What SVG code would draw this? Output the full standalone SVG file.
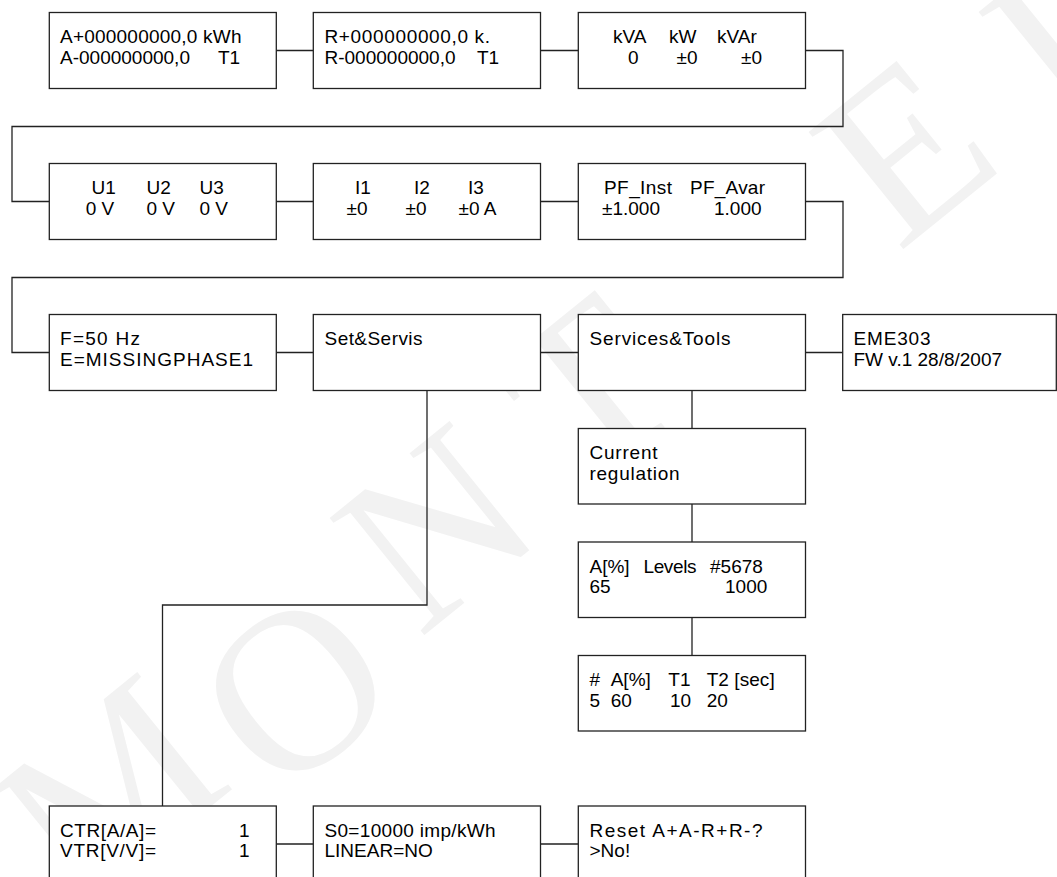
<svg xmlns="http://www.w3.org/2000/svg" width="1057" height="877" viewBox="0 0 1057 877">
<style>
.bx{fill:#fff;stroke:#222;stroke-width:1.3}
.ln{fill:none;stroke:#222;stroke-width:1.3}
.t{font-family:"Liberation Sans",Arial,sans-serif;font-size:19px;fill:#000}
.wm{font-family:"Liberation Serif","Times New Roman",serif;font-size:230px;fill:#f2f2f2;text-anchor:middle}
</style>
<rect width="1057" height="877" fill="#fff"/>
<g id="watermark">
<text class="wm" transform="translate(110,790) rotate(-39)" y="76">M</text>
<text class="wm" transform="translate(295,690) rotate(-39)" y="76">O</text>
<text class="wm" transform="translate(436,528) rotate(-39)" y="76">N</text>
<text class="wm" transform="translate(590,390) rotate(-39)" y="76">T</text>
<text class="wm" transform="translate(905,150) rotate(-39)" y="76">E</text>
<text class="wm" transform="translate(1075,30) rotate(-39)" y="76">L</text>
</g>
<g id="connectors">
<path class="ln" d="M276.3,50.5H313.3M540.5,50.5H578.3M805.5,50.5H843V126.5H12V201.5H49.3"/>
<path class="ln" d="M276.3,201.5H313.3M540.5,201.5H578.3M805.5,201.5H843V277.5H12V352.5H49.3"/>
<path class="ln" d="M276.3,352.5H313.3M540.5,352.5H578.3M805.5,352.5H842.7"/>
<path class="ln" d="M427,390.5V605H162.5V806"/>
<path class="ln" d="M692,390.5V428.5M692,504V542M692,617.5V655.5"/>
<path class="ln" d="M276.3,844H313.3M540.5,844H578.3"/>
</g>
<g id="n-energy-a">
<rect class="bx" x="49.3" y="12.5" width="227" height="76"/>
<text class="t" x="60" y="43" textLength="181.5">A+000000000,0 kWh</text>
<text class="t" x="60" y="63.5">A-000000000,0</text>
<text class="t" x="218" y="63.5">T1</text>
</g>
<g id="n-energy-r">
<rect class="bx" x="313.3" y="12.5" width="227.2" height="76"/>
<text class="t" x="324.5" y="43" textLength="165.5">R+000000000,0 k.</text>
<text class="t" x="324.5" y="63.5">R-000000000,0</text>
<text class="t" x="477" y="63.5">T1</text>
</g>
<g id="n-power">
<rect class="bx" x="578.3" y="12.5" width="227.2" height="76"/>
<text class="t" x="613" y="43">kVA</text>
<text class="t" x="669" y="43">kW</text>
<text class="t" x="717" y="43">kVAr</text>
<text class="t" x="628" y="63.5">0</text>
<text class="t" x="676.5" y="63.5">±0</text>
<text class="t" x="741" y="63.5">±0</text>
</g>
<g id="n-voltage">
<rect class="bx" x="49.3" y="163.5" width="227" height="76"/>
<text class="t" x="91.5" y="194">U1</text>
<text class="t" x="146.5" y="194">U2</text>
<text class="t" x="199.5" y="194">U3</text>
<text class="t" x="85.7" y="214.5">0 V</text>
<text class="t" x="146.5" y="214.5">0 V</text>
<text class="t" x="199.5" y="214.5">0 V</text>
</g>
<g id="n-current">
<rect class="bx" x="313.3" y="163.5" width="227.2" height="76"/>
<text class="t" x="355" y="194">I1</text>
<text class="t" x="414" y="194">I2</text>
<text class="t" x="468" y="194">I3</text>
<text class="t" x="346.5" y="214.5">±0</text>
<text class="t" x="405.5" y="214.5">±0</text>
<text class="t" x="458.5" y="214.5">±0 A</text>
</g>
<g id="n-pf">
<rect class="bx" x="578.3" y="163.5" width="227.2" height="76"/>
<text class="t" x="604" y="194" textLength="68">PF_Inst</text>
<text class="t" x="690" y="194" textLength="75">PF_Avar</text>
<text class="t" x="602" y="214.5">±1.000</text>
<text class="t" x="714" y="214.5">1.000</text>
</g>
<g id="n-freq">
<rect class="bx" x="49.3" y="314.5" width="227" height="76"/>
<text class="t" x="60" y="345" textLength="80">F=50 Hz</text>
<text class="t" x="60" y="365.5" textLength="193">E=MISSINGPHASE1</text>
</g>
<g id="n-setservis">
<rect class="bx" x="313.3" y="314.5" width="227.2" height="76"/>
<text class="t" x="324.5" y="345" textLength="98">Set&amp;Servis</text>
</g>
<g id="n-services">
<rect class="bx" x="578.3" y="314.5" width="227.2" height="76"/>
<text class="t" x="589.5" y="345" textLength="141">Services&amp;Tools</text>
</g>
<g id="n-eme">
<rect class="bx" x="842.7" y="314.5" width="213.6" height="76"/>
<text class="t" x="853.5" y="345" textLength="77">EME303</text>
<text class="t" x="853.5" y="365.5">FW v.1 28/8/2007</text>
</g>
<g id="n-curreg">
<rect class="bx" x="578.3" y="428.5" width="227.2" height="75.5"/>
<text class="t" x="589.5" y="459" textLength="68">Current</text>
<text class="t" x="589.5" y="479.5" textLength="90">regulation</text>
</g>
<g id="n-levels">
<rect class="bx" x="578.3" y="542" width="227.2" height="75.5"/>
<text class="t" x="589.5" y="572.5">A[%]</text>
<text class="t" x="643.5" y="572.5" textLength="53">Levels</text>
<text class="t" x="710" y="572.5">#5678</text>
<text class="t" x="589.5" y="593">65</text>
<text class="t" x="725" y="593">1000</text>
</g>
<g id="n-times">
<rect class="bx" x="578.3" y="655.5" width="227.2" height="75.5"/>
<text class="t" x="589.5" y="686">#</text>
<text class="t" x="610.7" y="686">A[%]</text>
<text class="t" x="668.3" y="686">T1</text>
<text class="t" x="706.7" y="686" textLength="68">T2 [sec]</text>
<text class="t" x="589.5" y="706.5">5</text>
<text class="t" x="610.7" y="706.5">60</text>
<text class="t" x="670" y="706.5">10</text>
<text class="t" x="706.7" y="706.5">20</text>
</g>
<g id="n-ratio">
<rect class="bx" x="49.3" y="806" width="227" height="76"/>
<text class="t" x="60" y="836.5" textLength="96">CTR[A/A]=</text>
<text class="t" x="239" y="836.5">1</text>
<text class="t" x="60" y="857" textLength="96">VTR[V/V]=</text>
<text class="t" x="239" y="857">1</text>
</g>
<g id="n-pulse">
<rect class="bx" x="313.3" y="806" width="227.2" height="76"/>
<text class="t" x="324.5" y="836.5" textLength="171">S0=10000 imp/kWh</text>
<text class="t" x="324.5" y="857">LINEAR=NO</text>
</g>
<g id="n-reset">
<rect class="bx" x="578.3" y="806" width="227.2" height="76"/>
<text class="t" x="589.5" y="836.5" textLength="173">Reset A+A-R+R-?</text>
<text class="t" x="589.5" y="857">&gt;No!</text>
</g>
</svg>
